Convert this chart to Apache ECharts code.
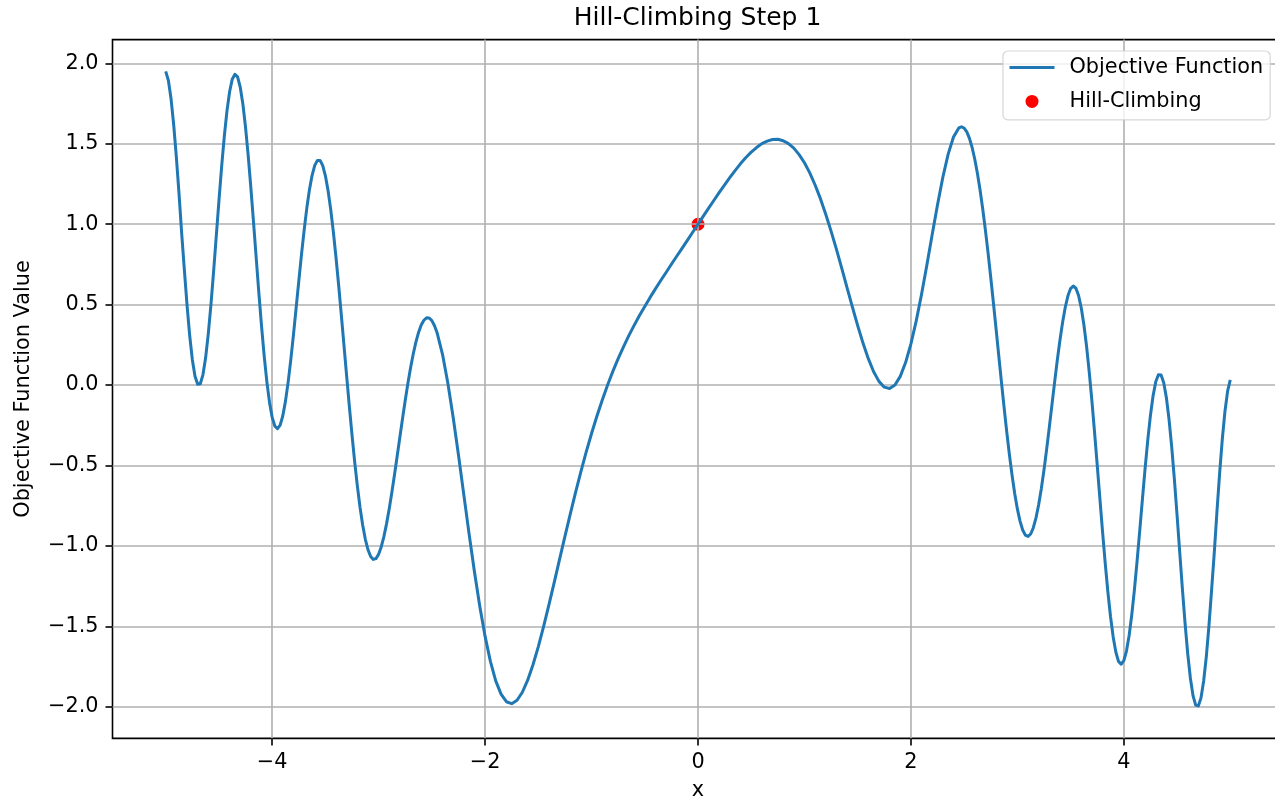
<!DOCTYPE html>
<html>
<head>
<meta charset="utf-8">
<title>Hill-Climbing Step 1</title>
<script src="https://cdn.jsdelivr.net/npm/echarts@6/dist/echarts.min.js"></script>
<style>
  html, body { margin: 0; padding: 0; background: #ffffff; }
  #chart { width: 1275px; height: 802px; }
</style>
</head>
<body>
<div id="chart"></div>
<script>
// Sample positions along x for the objective curve (denser where it oscillates fast)
const xValues = [
  -5.000, -4.975, -4.950, -4.925, -4.900, -4.875, -4.850, -4.825, -4.800, -4.775,
  -4.750, -4.725, -4.700, -4.675, -4.650, -4.625, -4.600, -4.575, -4.550, -4.525,
  -4.500, -4.475, -4.450, -4.425, -4.400, -4.375, -4.350, -4.325, -4.300, -4.275,
  -4.250, -4.225, -4.200, -4.175, -4.150, -4.125, -4.100, -4.075, -4.050, -4.025,
  -4.000, -3.975, -3.950, -3.925, -3.900, -3.875, -3.850, -3.825, -3.800, -3.775,
  -3.750, -3.725, -3.700, -3.675, -3.650, -3.625, -3.600, -3.575, -3.550, -3.525,
  -3.500, -3.475, -3.450, -3.425, -3.400, -3.375, -3.350, -3.325, -3.300, -3.275,
  -3.250, -3.225, -3.200, -3.175, -3.150, -3.125, -3.100, -3.075, -3.050, -3.025,
  -3.000, -2.975, -2.950, -2.925, -2.900, -2.875, -2.850, -2.825, -2.800, -2.775,
  -2.750, -2.725, -2.700, -2.675, -2.650, -2.625, -2.600, -2.575, -2.550, -2.525,
  -2.500, -2.475, -2.450,
  -2.40, -2.35, -2.30, -2.25, -2.20, -2.15, -2.10, -2.05,
  -2.00, -1.95, -1.90, -1.85, -1.80, -1.75, -1.70, -1.65, -1.60, -1.55,
  -1.50, -1.45, -1.40, -1.35, -1.30, -1.25, -1.20, -1.15, -1.10, -1.05,
  -1.00, -0.95, -0.90, -0.85, -0.80, -0.75, -0.70, -0.65, -0.60, -0.55,
  -0.50, -0.45, -0.40, -0.35, -0.30, -0.25, -0.20, -0.15, -0.10, -0.05,
  0.00,
  0.05, 0.10, 0.15, 0.20, 0.25, 0.30, 0.35, 0.40, 0.45, 0.50,
  0.55, 0.60, 0.65, 0.70, 0.75, 0.80, 0.85, 0.90, 0.95, 1.00,
  1.05, 1.10, 1.15, 1.20, 1.25, 1.30, 1.35, 1.40, 1.45, 1.50,
  1.55, 1.60, 1.65, 1.70, 1.75, 1.80, 1.85, 1.90, 1.95, 2.00,
  2.05, 2.10, 2.15, 2.20, 2.25, 2.30, 2.35, 2.40,
  2.450, 2.475, 2.500, 2.525, 2.550, 2.575, 2.600, 2.625, 2.650, 2.675,
  2.700, 2.725, 2.750, 2.775, 2.800, 2.825, 2.850, 2.875, 2.900, 2.925,
  2.950, 2.975, 3.000, 3.025, 3.050, 3.075, 3.100, 3.125, 3.150, 3.175,
  3.200, 3.225, 3.250, 3.275, 3.300, 3.325, 3.350, 3.375, 3.400, 3.425,
  3.450, 3.475, 3.500, 3.525, 3.550, 3.575, 3.600, 3.625, 3.650, 3.675,
  3.700, 3.725, 3.750, 3.775, 3.800, 3.825, 3.850, 3.875, 3.900, 3.925,
  3.950, 3.975, 4.000, 4.025, 4.050, 4.075, 4.100, 4.125, 4.150, 4.175,
  4.200, 4.225, 4.250, 4.275, 4.300, 4.325, 4.350, 4.375, 4.400, 4.425,
  4.450, 4.475, 4.500, 4.525, 4.550, 4.575, 4.600, 4.625, 4.650, 4.675,
  4.700, 4.725, 4.750, 4.775, 4.800, 4.825, 4.850, 4.875, 4.900, 4.925,
  4.950, 4.975, 5.000
];

// Objective function value at each sample position
const objectiveValues = [
  1.950, 1.894, 1.780, 1.617, 1.416, 1.189, 0.941, 0.716, 0.498, 0.308,
  0.158, 0.055, 0.005, 0.008, 0.065, 0.171, 0.320, 0.502, 0.708, 0.927,
  1.147, 1.357, 1.545, 1.703, 1.824, 1.902, 1.932, 1.916, 1.852, 1.746,
  1.601, 1.425, 1.225, 1.010, 0.790, 0.572, 0.367, 0.180, 0.020, -0.108,
  -0.201, -0.255, -0.271, -0.249, -0.191, -0.100, 0.018, 0.158, 0.314, 0.479,
  0.646, 0.809, 0.962, 1.099, 1.214, 1.304, 1.366, 1.397, 1.397, 1.364,
  1.301, 1.209, 1.091, 0.950, 0.790, 0.616, 0.432, 0.242, 0.052, -0.134,
  -0.311, -0.477, -0.627, -0.759, -0.870, -0.959, -1.024, -1.066, -1.084, -1.079,
  -1.052, -1.005, -0.941, -0.860, -0.767, -0.664, -0.553, -0.438, -0.321, -0.206,
  -0.094, 0.011, 0.107, 0.193, 0.267, 0.327, 0.373, 0.403, 0.418, 0.417,
  0.401, 0.369, 0.323,
  0.191, 0.013, -0.200, -0.435, -0.681, -0.927, -1.161, -1.375,
  -1.563, -1.718, -1.839, -1.922, -1.969, -1.981, -1.960, -1.910, -1.835, -1.739,
  -1.626, -1.500, -1.365, -1.225, -1.082, -0.941, -0.802, -0.667, -0.538, -0.416,
  -0.301, -0.194, -0.094, -0.001, 0.085, 0.164, 0.238, 0.307, 0.371, 0.432,
  0.489, 0.545, 0.598, 0.650, 0.700, 0.751, 0.801, 0.850, 0.900, 0.950,
  1.000,
  1.050, 1.100, 1.149, 1.198, 1.245, 1.291, 1.335, 1.377, 1.415, 1.448,
  1.477, 1.501, 1.517, 1.527, 1.528, 1.519, 1.501, 1.473, 1.433, 1.382,
  1.319, 1.244, 1.159, 1.062, 0.957, 0.845, 0.727, 0.606, 0.486, 0.369,
  0.261, 0.164, 0.083, 0.023, -0.013, -0.021, 0.000, 0.054, 0.140, 0.256,
  0.399, 0.565, 0.747, 0.936, 1.121, 1.292, 1.436, 1.542,
  1.599, 1.606, 1.598, 1.574, 1.534, 1.477, 1.404, 1.315, 1.211, 1.093,
  0.962, 0.820, 0.669, 0.511, 0.349, 0.185, 0.022, -0.137, -0.289, -0.431,
  -0.560, -0.674, -0.770, -0.846, -0.901, -0.933, -0.941, -0.926, -0.887, -0.826,
  -0.744, -0.644, -0.528, -0.400, -0.263, -0.122, 0.018, 0.154, 0.279, 0.391,
  0.484, 0.555, 0.600, 0.616, 0.602, 0.557, 0.481, 0.375, 0.241, 0.082,
  -0.097, -0.292, -0.497, -0.705, -0.910, -1.105, -1.284, -1.439, -1.566, -1.660,
  -1.718, -1.736, -1.714, -1.654, -1.557, -1.427, -1.270, -1.092, -0.902, -0.708,
  -0.518, -0.342, -0.189, -0.066, 0.020, 0.064, 0.062, 0.014, -0.079, -0.215,
  -0.386, -0.587, -0.808, -1.038, -1.265, -1.479, -1.668, -1.821, -1.931, -1.990,
  -1.995, -1.945, -1.840, -1.688, -1.494, -1.271, -1.040, -0.785, -0.549, -0.338,
  -0.164, -0.038, 0.032
];

// Current hill-climbing position
const climbX = [0];
const climbY = [1.0];

// Axis ticks and view limits
const xTicks = [-4, -2, 0, 2, 4];
const yTicks = [-2.0, -1.5, -1.0, -0.5, 0.0, 0.5, 1.0, 1.5, 2.0];
const xLimits = [-5.5, 5.5];
const yLimits = [-2.197, 2.148];

const FONT = 'DejaVu Sans';
const minusSign = s => s.replace('-', '\u2212');

const curveData = xValues.map((x, i) => [x, objectiveValues[i]]);
const climbData = climbX.map((x, i) => [x, climbY[i]]);

const chart = echarts.init(document.getElementById('chart'), null, { renderer: 'canvas' });

chart.setOption({
  animation: false,
  backgroundColor: '#ffffff',
  title: {
    text: 'Hill-Climbing Step 1',
    left: 697.5,
    top: 6,
    padding: 0,
    textAlign: 'center',
    textStyle: { fontFamily: FONT, fontSize: 25, fontWeight: 'normal', color: '#000000' }
  },
  legend: {
    orient: 'vertical',
    left: 1003,
    top: 51,
    padding: [6, 7, 8, 5],
    itemWidth: 45,
    itemHeight: 13,
    itemGap: 12.9,
    backgroundColor: 'rgba(255,255,255,0.8)',
    borderColor: 'rgba(204,204,204,0.8)',
    borderWidth: 1.2,
    borderRadius: 5,
    lineStyle: { width: 3 },
    textStyle: { fontFamily: FONT, fontSize: 20.8, color: '#000000', padding: [0, 0, 0, 10] },
    data: [
      { name: 'Objective Function', itemStyle: { opacity: 0 } },
      { name: 'Hill-Climbing', icon: 'circle', itemStyle: { opacity: 1 } }
    ]
  },
  grid: {
    left: 112.5,
    top: 39.6,
    width: 1171,
    height: 698.8,
    outerBoundsMode: 'none',
    show: true,
    borderColor: '#000000',
    borderWidth: 1.6,
    backgroundColor: 'transparent',
    containLabel: false
  },
  xAxis: {
    type: 'value',
    min: xLimits[0],
    max: xLimits[1],
    splitNumber: 5,
    name: 'x',
    nameLocation: 'middle',
    nameGap: 42,
    nameTextStyle: { fontFamily: FONT, fontSize: 20.8, color: '#000000' },
    axisLine: { show: false, onZero: false },
    axisTick: { show: true, length: 7, lineStyle: { color: '#000000', width: 1.6 }, customValues: xTicks },
    axisLabel: {
      customValues: xTicks,
      margin: 14,
      fontFamily: FONT,
      fontSize: 20.8,
      color: '#000000',
      formatter: v => minusSign(String(v))
    },
    splitLine: { show: true, lineStyle: { color: '#b0b0b0', width: 1.6 } }
  },
  yAxis: {
    type: 'value',
    min: yLimits[0],
    max: yLimits[1],
    splitNumber: 8,
    name: 'Objective Function Value',
    nameLocation: 'middle',
    nameRotate: 90,
    nameGap: 78,
    nameTextStyle: { fontFamily: FONT, fontSize: 20.8, color: '#000000' },
    axisLine: { show: false, onZero: false },
    axisTick: { show: true, length: 7, lineStyle: { color: '#000000', width: 1.6 }, customValues: yTicks },
    axisLabel: {
      customValues: yTicks,
      margin: 14,
      fontFamily: FONT,
      fontSize: 20.8,
      color: '#000000',
      formatter: v => minusSign(Number(v).toFixed(1))
    },
    splitLine: { show: true, lineStyle: { color: '#b0b0b0', width: 1.6 } }
  },
  series: [
    {
      name: 'Objective Function',
      type: 'line',
      data: curveData,
      smooth: false,
      symbol: 'none',
      showSymbol: false,
      z: 3,
      lineStyle: { color: '#1f77b4', width: 3, join: 'round' },
      itemStyle: { color: '#1f77b4' }
    },
    {
      name: 'Hill-Climbing',
      type: 'scatter',
      data: climbData,
      symbol: 'circle',
      symbolSize: 13,
      z: -1,
      itemStyle: { color: '#ff0000', opacity: 1 }
    }
  ]
});
</script>
</body>
</html>
